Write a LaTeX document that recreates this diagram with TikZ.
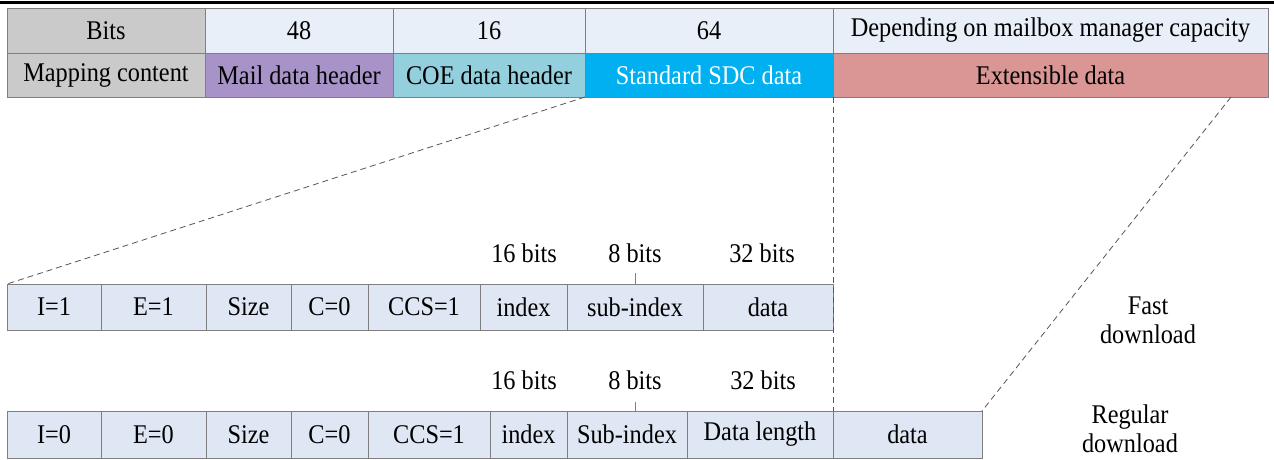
\documentclass[tikz,border=0pt]{standalone}
\usepackage{fontspec}
\setmainfont{Liberation Serif}[FakeStretch=0.9]
\definecolor{cgray}{HTML}{CACACA}
\definecolor{chdr}{HTML}{E9EFF8}
\definecolor{cmail}{HTML}{A793C7}
\definecolor{ccoe}{HTML}{93CFDD}
\definecolor{csdc}{HTML}{00B0F0}
\definecolor{cext}{HTML}{D99694}
\definecolor{cbit}{HTML}{DEE7F3}
\definecolor{cline}{HTML}{7F7F7F}
\definecolor{cdash}{HTML}{555555}
\newcommand\bcell[7]{\node[cell, fill=#6, minimum width={#3-#2}, minimum height={#5-#4}] (#1) at ({(#2+#3)/2},{(#4+#5)/2}) {#7};}
\tikzset{
  cell/.style={draw=cline, line width=1pt, inner sep=0pt, outer sep=0pt, font=\fontsize{27}{30}\selectfont},
  lbl/.style={inner sep=0pt, font=\fontsize{27}{30}\selectfont},
  side/.style={inner sep=0pt, align=center, font=\fontsize{27}{29}\selectfont},
  guide/.style={draw=cdash, line width=0.8pt, dash pattern=on 6pt off 4pt},
  tick/.style={draw=cline, line width=0.8pt}
}
\begin{document}
\begin{tikzpicture}[x=1pt, y=-1pt]
\useasboundingbox (0,0) rectangle (1274,459);
\draw[line width=3pt] (0,2.5) -- (1274,2.5);
% top table
\bcell{bits}{7}{205}{8}{53}{cgray}{Bits}
\bcell{b48}{205}{393}{8}{53}{chdr}{48}
\bcell{b16}{393}{585}{8}{53}{chdr}{16}
\bcell{b64}{585}{833}{8}{53}{chdr}{64}
\bcell{bdep}{833}{1268}{8}{53}{chdr}{Depending on mailbox manager capacity}
\bcell{map}{7}{205}{53}{97}{cgray}{Mapping content}
\bcell{mail}{205}{393}{53}{97}{cmail}{Mail data header}
\bcell{coe}{393}{585}{53}{97}{ccoe}{COE data header}
\bcell{sdc}{585}{833}{53}{97}{csdc}{\textcolor{white}{Standard SDC data}}
\bcell{ext}{833}{1268}{53}{97}{cext}{Extensible data}
% fast download row
\bcell{fi}{7}{101}{284}{330}{cbit}{I=1}
\bcell{fe}{101}{206}{284}{330}{cbit}{E=1}
\bcell{fsize}{206}{291}{284}{330}{cbit}{Size}
\bcell{fc}{291}{368}{284}{330}{cbit}{C=0}
\bcell{fccs}{368}{480}{284}{330}{cbit}{CCS=1}
\bcell{findex}{480}{567}{284}{330}{cbit}{index}
\bcell{fsub}{567}{703}{284}{330}{cbit}{sub-index}
\bcell{fdata}{703}{833}{284}{330}{cbit}{data}
% regular download row
\bcell{ri}{7}{101}{411}{458}{cbit}{I=0}
\bcell{re}{101}{206}{411}{458}{cbit}{E=0}
\bcell{rsize}{206}{291}{411}{458}{cbit}{Size}
\bcell{rc}{291}{368}{411}{458}{cbit}{C=0}
\bcell{rccs}{368}{490}{411}{458}{cbit}{CCS=1}
\bcell{rindex}{490}{567}{411}{458}{cbit}{index}
\bcell{rsub}{567}{687}{411}{458}{cbit}{Sub-index}
\bcell{rlen}{687}{833}{411}{458}{cbit}{Data length}
\bcell{rdata}{833}{982}{411}{458}{cbit}{data}
% bit labels
\node[lbl] (f16) at (524,253) {16 bits};
\node[lbl] (f8) at (635,253) {8 bits};
\node[lbl] (f32) at (762,253) {32 bits};
\node[lbl] (r16) at (524,380) {16 bits};
\node[lbl] (r8) at (635,380) {8 bits};
\node[lbl] (r32) at (763,380) {32 bits};
\coordinate (ftk) at (635,273);
\coordinate (rtk) at (635,402);
\draw[tick] (ftk) -- (ftk |- fsub.north);
\draw[tick] (rtk) -- (rtk |- rsub.north);
% side labels
\node[side] (fast) at (1148,320) {Fast\\download};
\node[side] (reg) at (1130,429) {Regular\\download};
% guide lines
\coordinate (extpt) at (1231,97);
\draw[guide] (sdc.south west) -- (fi.north west);
\draw[guide] (sdc.south east) -- (rdata.north west);
\draw[guide] (extpt) -- (rdata.north east);
\end{tikzpicture}
\end{document}
